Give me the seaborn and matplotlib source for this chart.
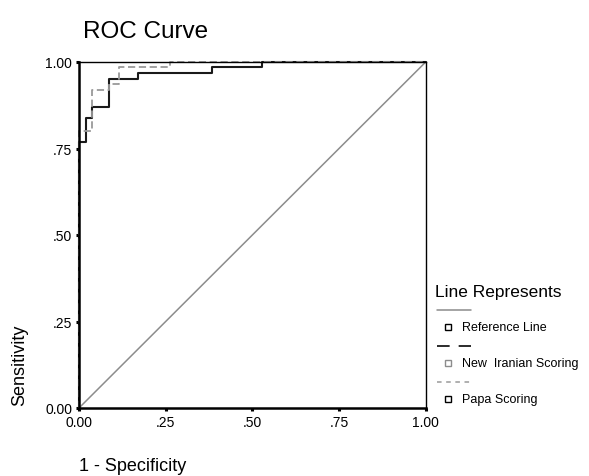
import matplotlib
matplotlib.use("Agg")
import matplotlib.pyplot as plt
from matplotlib.lines import Line2D
import seaborn as sns
import pandas as pd

# ---- data ----
ref_fpr = [0.0, 1.0]
ref_tpr = [0.0, 1.0]

iran_fpr = [0.0, 0.0, 0.019, 0.019, 0.037, 0.037, 0.087, 0.087, 0.17, 0.17, 0.385, 0.385, 0.527, 0.527, 1.0]
iran_tpr = [0.0, 0.768, 0.768, 0.838, 0.838, 0.869, 0.869, 0.951, 0.951, 0.967, 0.967, 0.985, 0.985, 1.0, 1.0]

papa_fpr = [0.0, 0.0, 0.037, 0.037, 0.087, 0.087, 0.116, 0.116, 0.262, 0.262, 1.0]
papa_tpr = [0.0, 0.801, 0.801, 0.919, 0.919, 0.936, 0.936, 0.985, 0.985, 1.0, 1.0]

tick_vals = [0.0, 0.25, 0.5, 0.75, 1.0]
tick_labels = ["0.00", ".25", ".50", ".75", "1.00"]

title = "ROC Curve"
x_label = "1 - Specificity"
y_label = "Sensitivity"
legend_title = "Line Represents"
legend_labels = ["Reference Line", "New  Iranian Scoring", "Papa Scoring"]

# ---- style ----
sns.set_style("white")
plt.rcParams["font.family"] = ["Liberation Sans", "DejaVu Sans"]
plt.rcParams["text.color"] = "black"

W, H = 589, 477
fig = plt.figure(figsize=(W / 100, H / 100), dpi=100)
ax = fig.add_axes([79 / W, 1 - 409 / H, (425.7 - 79) / W, (409 - 63) / H])

ref_df = pd.DataFrame({"x": ref_fpr, "y": ref_tpr})
iran_df = pd.DataFrame({"x": iran_fpr, "y": iran_tpr})
papa_df = pd.DataFrame({"x": papa_fpr, "y": papa_tpr})

sns.lineplot(data=ref_df, x="x", y="y", sort=False, estimator=None, ax=ax,
             color="#8c8c8c", linewidth=1.1)
sns.lineplot(data=iran_df, x="x", y="y", sort=False, estimator=None, ax=ax,
             color="#1a1a1a", linewidth=1.5, clip_on=False)
sns.lineplot(data=papa_df, x="x", y="y", sort=False, estimator=None, ax=ax,
             color="#9a9a9a", linewidth=1.3, linestyle=(0, (4, 2)), clip_on=False)

ax.set_xlim(0, 1)
ax.set_ylim(0, 1)
ax.set_xticks(tick_vals)
ax.set_xticklabels(tick_labels)
ax.set_yticks(tick_vals)
ax.set_yticklabels(tick_labels)
ax.set_xlabel("")
ax.set_ylabel("")
ax.tick_params(axis="both", direction="out", length=2, width=2.2, color="black",
               labelsize=10, pad=3, labelcolor="black")
ax.xaxis.set_ticks_position("bottom")
ax.yaxis.set_ticks_position("left")
for side in ["left", "bottom"]:
    ax.spines[side].set_linewidth(1.8)
    ax.spines[side].set_color("black")
    ax.spines[side].set_zorder(5)
for side in ["top", "right"]:
    ax.spines[side].set_visible(True)
    ax.spines[side].set_linewidth(1.0)
    ax.spines[side].set_color("black")

def fx(px):
    return px / W

def fy(py):
    return 1 - py / H

fig.text(fx(83), fy(32), title, fontsize=17.5, va="center", ha="left")
fig.text(fx(79), fy(467), x_label, fontsize=13, va="center", ha="left")
fig.text(fx(20), fy(365), y_label, fontsize=13, va="center", ha="center", rotation=90)

# legend (SPSS layout: line sample above the marker+label row)
fig.text(fx(435), fy(292), legend_title, fontsize=12.5, va="center", ha="left")
samples = [
    dict(color="#8c8c8c", ls="-", lw=1.1, y=311, mcolor="black"),
    dict(color="#1a1a1a", ls=(0, (7, 5)), lw=1.3, y=347, mcolor="#8c8c8c"),
    dict(color="#9a9a9a", ls=(0, (3, 3)), lw=1.1, y=383, mcolor="black"),
]
for s, lab in zip(samples, legend_labels):
    fig.add_artist(Line2D([fx(437), fx(471)], [fy(s["y"]), fy(s["y"])],
                          transform=fig.transFigure, color=s["color"],
                          linestyle=s["ls"], linewidth=s["lw"]))
    fig.add_artist(Line2D([fx(448)], [fy(s["y"] + 17)], transform=fig.transFigure,
                          marker="s", markersize=4, markerfacecolor="white",
                          markeredgecolor=s["mcolor"], markeredgewidth=1.0,
                          linestyle="none"))
    fig.text(fx(462), fy(s["y"] + 17), lab, fontsize=9, va="center", ha="left")

fig.savefig("out.png", dpi=100)
